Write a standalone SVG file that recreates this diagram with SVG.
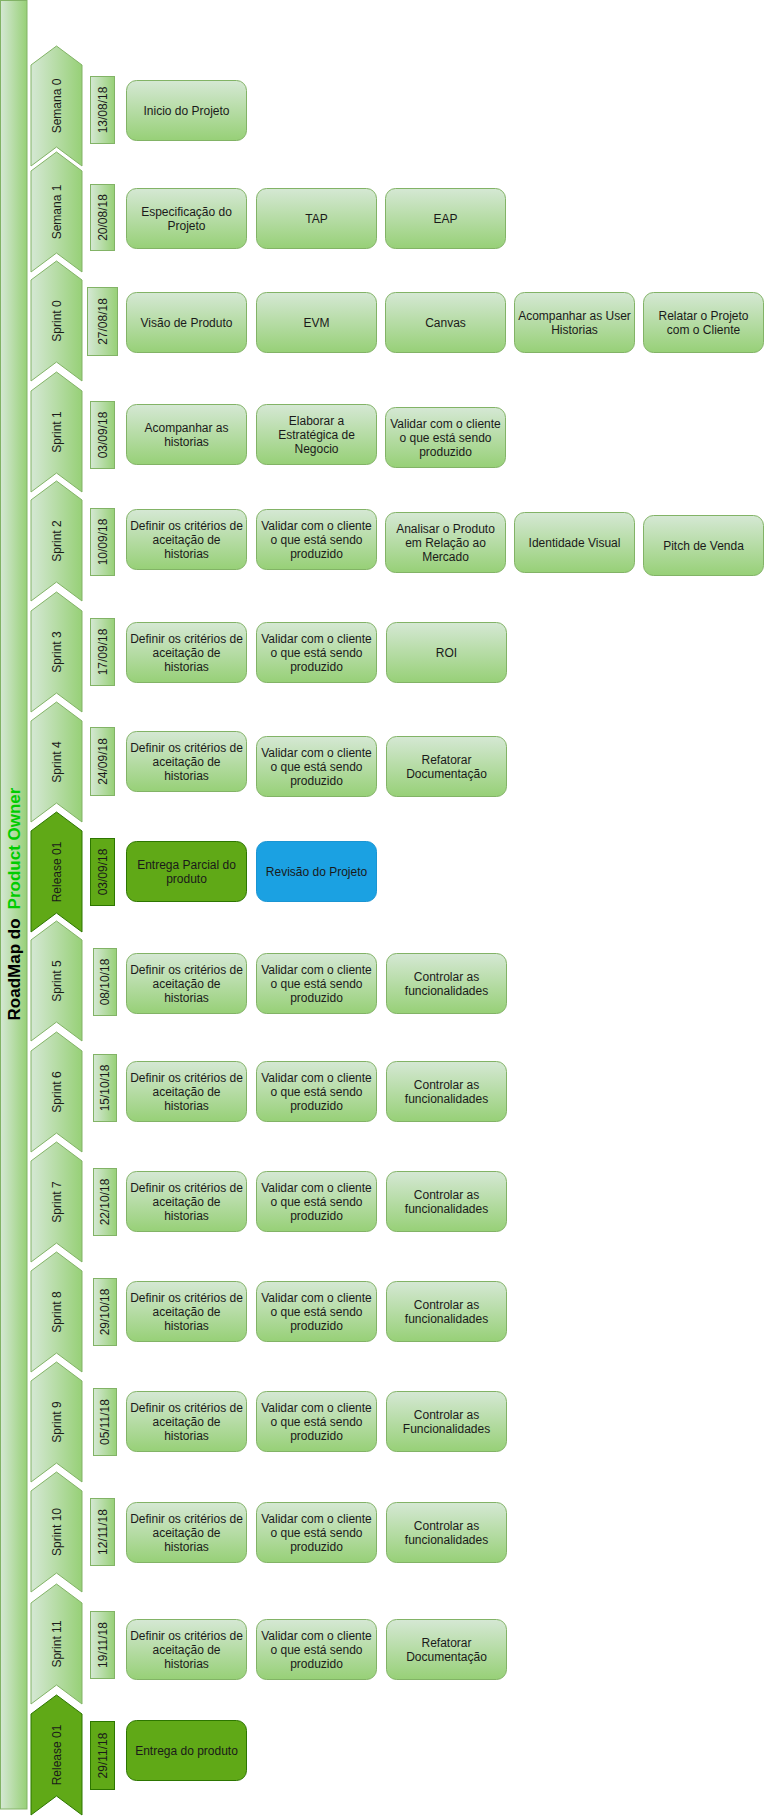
<svg xmlns="http://www.w3.org/2000/svg" xmlns:xlink="http://www.w3.org/1999/xlink" width="767" height="1816" viewBox="0 0 767 1816">
<defs>
<linearGradient id="gV" x1="0" y1="0" x2="0" y2="1"><stop offset="0" stop-color="#d5e8d4"/><stop offset="1" stop-color="#97d077"/></linearGradient>
<linearGradient id="gH" x1="0" y1="0" x2="1" y2="0"><stop offset="0" stop-color="#d5e8d4"/><stop offset="1" stop-color="#97d077"/></linearGradient>
<path id="chev" d="M31,19 L56.5,0 L82,19 L82,120 L56.5,101 L31,120 Z"/>
<style>
.bar{fill:url(#gH);stroke:#82b366}
.chev{fill:url(#gH);stroke:#82b366}
.chevR{fill:#60a917;stroke:#2d7600}
.date{fill:url(#gH);stroke:#82b366}
.dateR{fill:#60a917;stroke:#2d7600}
.task{fill:url(#gV);stroke:#82b366}
.rel{fill:#60a917;stroke:#2d7600}
.blue{fill:#1ba1e2;stroke:#1a95d3}
text{font-family:"Liberation Sans",Arial,sans-serif;font-size:12px;fill:#1a1a1a;text-anchor:middle;dominant-baseline:central}
.title{font-size:17px;font-weight:bold;fill:#000}
.po{fill:#00cc00}
</style>
</defs>
<rect width="767" height="1816" fill="#ffffff"/>
<g id="title-bar">
<rect class="bar" x="0.5" y="0.5" width="26.5" height="1808.5"/>
<text class="title" transform="translate(14,904) rotate(-90)">RoadMap do<tspan class="po" dx="9">Product Owner</tspan></text>
</g>
<g id="connectors"/>

<g id="row-semana0">
<use xlink:href="#chev" class="chev" y="46"/>
<text transform="translate(57,106) rotate(-90)">Semana 0</text>
<rect class="date" x="90.5" y="76.5" width="24" height="67"/>
<text transform="translate(102.5,110) rotate(-90)">13/08/18</text>
<g id="t-inicio"><rect class="task" x="126.5" y="80.5" width="120" height="60" rx="10"/><text x="186.5" y="110.5">Inicio do Projeto</text></g>
</g>

<g id="row-semana1">
<use xlink:href="#chev" class="chev" y="152"/>
<text transform="translate(57,212) rotate(-90)">Semana 1</text>
<rect class="date" x="90.5" y="184.5" width="24" height="66"/>
<text transform="translate(102.5,217.5) rotate(-90)">20/08/18</text>
<g id="t-espec"><rect class="task" x="126.5" y="188.5" width="120" height="60" rx="10"/><text x="186.5" y="211.5">Especificação do</text><text x="186.5" y="225.5">Projeto</text></g>
<g id="t-tap"><rect class="task" x="256.5" y="188.5" width="120" height="60" rx="10"/><text x="316.5" y="218.5">TAP</text></g>
<g id="t-eap"><rect class="task" x="385.5" y="188.5" width="120" height="60" rx="10"/><text x="445.5" y="218.5">EAP</text></g>
</g>

<g id="row-sprint0">
<use xlink:href="#chev" class="chev" y="261"/>
<text transform="translate(57,321) rotate(-90)">Sprint 0</text>
<rect class="date" x="87.5" y="287.5" width="30" height="68"/>
<text transform="translate(102.5,321.5) rotate(-90)">27/08/18</text>
<g id="t-visao"><rect class="task" x="126.5" y="292.5" width="120" height="60" rx="10"/><text x="186.5" y="322.5">Visão de Produto</text></g>
<g id="t-evm"><rect class="task" x="256.5" y="292.5" width="120" height="60" rx="10"/><text x="316.5" y="322.5">EVM</text></g>
<g id="t-canvas"><rect class="task" x="385.5" y="292.5" width="120" height="60" rx="10"/><text x="445.5" y="322.5">Canvas</text></g>
<g id="t-acomp-user"><rect class="task" x="514.5" y="292.5" width="120" height="60" rx="10"/><text x="574.5" y="315.5">Acompanhar as User</text><text x="574.5" y="329.5">Historias</text></g>
<g id="t-relatar"><rect class="task" x="643.5" y="292.5" width="120" height="60" rx="10"/><text x="703.5" y="315.5">Relatar o Projeto</text><text x="703.5" y="329.5">com o Cliente</text></g>
</g>

<g id="row-sprint1">
<use xlink:href="#chev" class="chev" y="372"/>
<text transform="translate(57,432) rotate(-90)">Sprint 1</text>
<rect class="date" x="90.5" y="401.5" width="24" height="67"/>
<text transform="translate(102.5,435) rotate(-90)">03/09/18</text>
<g id="t-acomp-hist"><rect class="task" x="126.5" y="404.5" width="120" height="60" rx="10"/><text x="186.5" y="427.5">Acompanhar as</text><text x="186.5" y="441.5">historias</text></g>
<g id="t-elaborar"><rect class="task" x="256.5" y="404.5" width="120" height="60" rx="10"/><text x="316.5" y="420.5">Elaborar a</text><text x="316.5" y="434.5">Estratégica de</text><text x="316.5" y="448.5">Negocio</text></g>
<g id="t-validar1"><rect class="task" x="385.5" y="407.5" width="120" height="60" rx="10"/><text x="445.5" y="423.5">Validar com o cliente</text><text x="445.5" y="437.5">o que está sendo</text><text x="445.5" y="451.5">produzido</text></g>
</g>

<g id="row-sprint2">
<use xlink:href="#chev" class="chev" y="481"/>
<text transform="translate(57,541) rotate(-90)">Sprint 2</text>
<rect class="date" x="90.5" y="508.5" width="24" height="67"/>
<text transform="translate(102.5,542) rotate(-90)">10/09/18</text>
<g id="t-definir2"><rect class="task" x="126.5" y="509.5" width="120" height="60" rx="10"/><text x="186.5" y="525.5">Definir os critérios de</text><text x="186.5" y="539.5">aceitação de</text><text x="186.5" y="553.5">historias</text></g>
<g id="t-validar2"><rect class="task" x="256.5" y="509.5" width="120" height="60" rx="10"/><text x="316.5" y="525.5">Validar com o cliente</text><text x="316.5" y="539.5">o que está sendo</text><text x="316.5" y="553.5">produzido</text></g>
<g id="t-analisar"><rect class="task" x="385.5" y="512.5" width="120" height="60" rx="10"/><text x="445.5" y="528.5">Analisar o Produto</text><text x="445.5" y="542.5">em Relação ao</text><text x="445.5" y="556.5">Mercado</text></g>
<g id="t-identidade"><rect class="task" x="514.5" y="512.5" width="120" height="60" rx="10"/><text x="574.5" y="542.5">Identidade Visual</text></g>
<g id="t-pitch"><rect class="task" x="643.5" y="515.5" width="120" height="60" rx="10"/><text x="703.5" y="545.5">Pitch de Venda</text></g>
</g>

<g id="row-sprint3">
<use xlink:href="#chev" class="chev" y="592"/>
<text transform="translate(57,652) rotate(-90)">Sprint 3</text>
<rect class="date" x="90.5" y="618.5" width="24" height="67"/>
<text transform="translate(102.5,652) rotate(-90)">17/09/18</text>
<g id="t-definir3"><rect class="task" x="126.5" y="622.5" width="120" height="60" rx="10"/><text x="186.5" y="638.5">Definir os critérios de</text><text x="186.5" y="652.5">aceitação de</text><text x="186.5" y="666.5">historias</text></g>
<g id="t-validar3"><rect class="task" x="256.5" y="622.5" width="120" height="60" rx="10"/><text x="316.5" y="638.5">Validar com o cliente</text><text x="316.5" y="652.5">o que está sendo</text><text x="316.5" y="666.5">produzido</text></g>
<g id="t-roi"><rect class="task" x="386.5" y="622.5" width="120" height="60" rx="10"/><text x="446.5" y="652.5">ROI</text></g>
</g>

<g id="row-sprint4">
<use xlink:href="#chev" class="chev" y="702"/>
<text transform="translate(57,762) rotate(-90)">Sprint 4</text>
<rect class="date" x="90.5" y="727.5" width="24" height="68"/>
<text transform="translate(102.5,761.5) rotate(-90)">24/09/18</text>
<g id="t-definir4"><rect class="task" x="126.5" y="731.5" width="120" height="60" rx="10"/><text x="186.5" y="747.5">Definir os critérios de</text><text x="186.5" y="761.5">aceitação de</text><text x="186.5" y="775.5">historias</text></g>
<g id="t-validar4"><rect class="task" x="256.5" y="736.5" width="120" height="60" rx="10"/><text x="316.5" y="752.5">Validar com o cliente</text><text x="316.5" y="766.5">o que está sendo</text><text x="316.5" y="780.5">produzido</text></g>
<g id="t-refatorar4"><rect class="task" x="386.5" y="736.5" width="120" height="60" rx="10"/><text x="446.5" y="759.5">Refatorar</text><text x="446.5" y="773.5">Documentação</text></g>
</g>

<g id="row-release1">
<use xlink:href="#chev" class="chevR" y="812"/>
<text transform="translate(57,872) rotate(-90)">Release 01</text>
<rect class="dateR" x="90.5" y="838.5" width="24" height="67"/>
<text transform="translate(102.5,872) rotate(-90)">03/09/18</text>
<g id="t-entrega-parcial"><rect class="rel" x="126.5" y="841.5" width="120" height="60" rx="10"/><text x="186.5" y="864.5">Entrega Parcial do</text><text x="186.5" y="878.5">produto</text></g>
<g id="t-revisao"><rect class="blue" x="256.5" y="841.5" width="120" height="60" rx="10"/><text x="316.5" y="871.5">Revisão do Projeto</text></g>
</g>

<g id="row-sprint5">
<use xlink:href="#chev" class="chev" y="921"/>
<text transform="translate(57,981) rotate(-90)">Sprint 5</text>
<rect class="date" x="93.5" y="948.5" width="23" height="67"/>
<text transform="translate(105,982) rotate(-90)">08/10/18</text>
<g id="t-definir5"><rect class="task" x="126.5" y="953.5" width="120" height="60" rx="10"/><text x="186.5" y="969.5">Definir os critérios de</text><text x="186.5" y="983.5">aceitação de</text><text x="186.5" y="997.5">historias</text></g>
<g id="t-validar5"><rect class="task" x="256.5" y="953.5" width="120" height="60" rx="10"/><text x="316.5" y="969.5">Validar com o cliente</text><text x="316.5" y="983.5">o que está sendo</text><text x="316.5" y="997.5">produzido</text></g>
<g id="t-controlar5"><rect class="task" x="386.5" y="953.5" width="120" height="60" rx="10"/><text x="446.5" y="976.5">Controlar as</text><text x="446.5" y="990.5">funcionalidades</text></g>
</g>

<g id="row-sprint6">
<use xlink:href="#chev" class="chev" y="1032"/>
<text transform="translate(57,1092) rotate(-90)">Sprint 6</text>
<rect class="date" x="93.5" y="1054.5" width="23" height="67"/>
<text transform="translate(105,1088) rotate(-90)">15/10/18</text>
<g id="t-definir6"><rect class="task" x="126.5" y="1061.5" width="120" height="60" rx="10"/><text x="186.5" y="1077.5">Definir os critérios de</text><text x="186.5" y="1091.5">aceitação de</text><text x="186.5" y="1105.5">historias</text></g>
<g id="t-validar6"><rect class="task" x="256.5" y="1061.5" width="120" height="60" rx="10"/><text x="316.5" y="1077.5">Validar com o cliente</text><text x="316.5" y="1091.5">o que está sendo</text><text x="316.5" y="1105.5">produzido</text></g>
<g id="t-controlar6"><rect class="task" x="386.5" y="1061.5" width="120" height="60" rx="10"/><text x="446.5" y="1084.5">Controlar as</text><text x="446.5" y="1098.5">funcionalidades</text></g>
</g>

<g id="row-sprint7">
<use xlink:href="#chev" class="chev" y="1142"/>
<text transform="translate(57,1202) rotate(-90)">Sprint 7</text>
<rect class="date" x="93.5" y="1168.5" width="23" height="67"/>
<text transform="translate(105,1202) rotate(-90)">22/10/18</text>
<g id="t-definir7"><rect class="task" x="126.5" y="1171.5" width="120" height="60" rx="10"/><text x="186.5" y="1187.5">Definir os critérios de</text><text x="186.5" y="1201.5">aceitação de</text><text x="186.5" y="1215.5">historias</text></g>
<g id="t-validar7"><rect class="task" x="256.5" y="1171.5" width="120" height="60" rx="10"/><text x="316.5" y="1187.5">Validar com o cliente</text><text x="316.5" y="1201.5">o que está sendo</text><text x="316.5" y="1215.5">produzido</text></g>
<g id="t-controlar7"><rect class="task" x="386.5" y="1171.5" width="120" height="60" rx="10"/><text x="446.5" y="1194.5">Controlar as</text><text x="446.5" y="1208.5">funcionalidades</text></g>
</g>

<g id="row-sprint8">
<use xlink:href="#chev" class="chev" y="1252"/>
<text transform="translate(57,1312) rotate(-90)">Sprint 8</text>
<rect class="date" x="93.5" y="1278.5" width="23" height="67"/>
<text transform="translate(105,1312) rotate(-90)">29/10/18</text>
<g id="t-definir8"><rect class="task" x="126.5" y="1281.5" width="120" height="60" rx="10"/><text x="186.5" y="1297.5">Definir os critérios de</text><text x="186.5" y="1311.5">aceitação de</text><text x="186.5" y="1325.5">historias</text></g>
<g id="t-validar8"><rect class="task" x="256.5" y="1281.5" width="120" height="60" rx="10"/><text x="316.5" y="1297.5">Validar com o cliente</text><text x="316.5" y="1311.5">o que está sendo</text><text x="316.5" y="1325.5">produzido</text></g>
<g id="t-controlar8"><rect class="task" x="386.5" y="1281.5" width="120" height="60" rx="10"/><text x="446.5" y="1304.5">Controlar as</text><text x="446.5" y="1318.5">funcionalidades</text></g>
</g>

<g id="row-sprint9">
<use xlink:href="#chev" class="chev" y="1362"/>
<text transform="translate(57,1422) rotate(-90)">Sprint 9</text>
<rect class="date" x="93.5" y="1388.5" width="23" height="67"/>
<text transform="translate(105,1422) rotate(-90)">05/11/18</text>
<g id="t-definir9"><rect class="task" x="126.5" y="1391.5" width="120" height="60" rx="10"/><text x="186.5" y="1407.5">Definir os critérios de</text><text x="186.5" y="1421.5">aceitação de</text><text x="186.5" y="1435.5">historias</text></g>
<g id="t-validar9"><rect class="task" x="256.5" y="1391.5" width="120" height="60" rx="10"/><text x="316.5" y="1407.5">Validar com o cliente</text><text x="316.5" y="1421.5">o que está sendo</text><text x="316.5" y="1435.5">produzido</text></g>
<g id="t-controlar9"><rect class="task" x="386.5" y="1391.5" width="120" height="60" rx="10"/><text x="446.5" y="1414.5">Controlar as</text><text x="446.5" y="1428.5">Funcionalidades</text></g>
</g>

<g id="row-sprint10">
<use xlink:href="#chev" class="chev" y="1472"/>
<text transform="translate(57,1532) rotate(-90)">Sprint 10</text>
<rect class="date" x="90.5" y="1498.5" width="24" height="67"/>
<text transform="translate(102.5,1532) rotate(-90)">12/11/18</text>
<g id="t-definir10"><rect class="task" x="126.5" y="1502.5" width="120" height="60" rx="10"/><text x="186.5" y="1518.5">Definir os critérios de</text><text x="186.5" y="1532.5">aceitação de</text><text x="186.5" y="1546.5">historias</text></g>
<g id="t-validar10"><rect class="task" x="256.5" y="1502.5" width="120" height="60" rx="10"/><text x="316.5" y="1518.5">Validar com o cliente</text><text x="316.5" y="1532.5">o que está sendo</text><text x="316.5" y="1546.5">produzido</text></g>
<g id="t-controlar10"><rect class="task" x="386.5" y="1502.5" width="120" height="60" rx="10"/><text x="446.5" y="1525.5">Controlar as</text><text x="446.5" y="1539.5">funcionalidades</text></g>
</g>

<g id="row-sprint11">
<use xlink:href="#chev" class="chev" y="1584"/>
<text transform="translate(57,1644) rotate(-90)">Sprint 11</text>
<rect class="date" x="90.5" y="1611.5" width="24" height="67"/>
<text transform="translate(102.5,1645) rotate(-90)">19/11/18</text>
<g id="t-definir11"><rect class="task" x="126.5" y="1619.5" width="120" height="60" rx="10"/><text x="186.5" y="1635.5">Definir os critérios de</text><text x="186.5" y="1649.5">aceitação de</text><text x="186.5" y="1663.5">historias</text></g>
<g id="t-validar11"><rect class="task" x="256.5" y="1619.5" width="120" height="60" rx="10"/><text x="316.5" y="1635.5">Validar com o cliente</text><text x="316.5" y="1649.5">o que está sendo</text><text x="316.5" y="1663.5">produzido</text></g>
<g id="t-refatorar11"><rect class="task" x="386.5" y="1619.5" width="120" height="60" rx="10"/><text x="446.5" y="1642.5">Refatorar</text><text x="446.5" y="1656.5">Documentação</text></g>
</g>

<g id="row-release2">
<use xlink:href="#chev" class="chevR" y="1695"/>
<text transform="translate(57,1755) rotate(-90)">Release 01</text>
<rect class="dateR" x="90.5" y="1721.5" width="24" height="68"/>
<text transform="translate(102.5,1755.5) rotate(-90)">29/11/18</text>
<g id="t-entrega-final"><rect class="rel" x="126.5" y="1720.5" width="120" height="60" rx="10"/><text x="186.5" y="1750.5">Entrega do produto</text></g>
</g>
</svg>
